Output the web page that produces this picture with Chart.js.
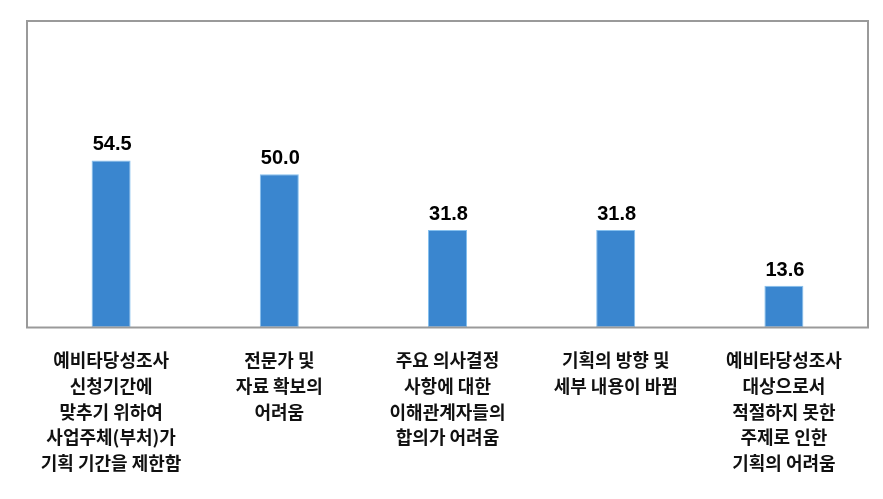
<!DOCTYPE html>
<html>
<head>
<meta charset="utf-8">
<script src="https://cdn.jsdelivr.net/npm/chart.js@4/dist/chart.umd.min.js"></script>
<style>
  html, body { margin: 0; padding: 0; background: #fff; }
  #wrap { width: 883px; height: 499px; }
</style>
</head>
<body>
<div id="wrap"><canvas id="chart"></canvas></div>
<script>
/* ── data ── */
const categories = [
  ['예비타당성조사', '신청기간에', '맞추기 위하여', '사업주체(부처)가', '기획 기간을 제한함'],
  ['전문가 및', '자료 확보의', '어려움'],
  ['주요 의사결정', '사항에 대한', '이해관계자들의', '합의가 어려움'],
  ['기획의 방향 및', '세부 내용이 바뀜'],
  ['예비타당성조사', '대상으로서', '적절하지 못한', '주제로 인한', '기획의 어려움'],
];
const values = [54.5, 50.0, 31.8, 31.8, 13.6];
const yMin = 0;
const yMax = 100;

const BAR      = '#3a86cf';
const BAR_EDGE = '#86c0ee';
const FRAME    = '#9a9a9a';

/* frame round the plot area */
const framePlugin = {
  id: 'frame',
  afterDraw(chart) {
    const { ctx, chartArea: a } = chart;
    ctx.save();
    ctx.strokeStyle = FRAME;
    ctx.lineWidth = 2;
    ctx.strokeRect(a.left, a.top, a.right - a.left, a.bottom - a.top);
    ctx.restore();
  }
};

/* value labels over the bars */
const valueLabels = {
  id: 'valueLabels',
  afterDatasetsDraw(chart) {
    const { ctx } = chart;
    const meta = chart.getDatasetMeta(0);
    ctx.save();
    ctx.font = 'bold 20px "Liberation Sans", Arial, sans-serif';
    ctx.fillStyle = '#000';
    ctx.textAlign = 'center';
    ctx.textBaseline = 'alphabetic';
    meta.data.forEach((bar, i) => {
      ctx.fillText(values[i].toFixed(1), bar.x + 1, bar.y - 10);
    });
    ctx.restore();
  }
};

new Chart(document.getElementById('chart'), {
  type: 'bar',
  data: {
    labels: categories,
    datasets: [{
      data: values,
      backgroundColor: BAR,
      borderColor: BAR_EDGE,
      borderWidth: 1,
      borderSkipped: false,
      categoryPercentage: 1,
      barPercentage: 0.232,
    }]
  },
  options: {
    responsive: true,
    maintainAspectRatio: false,
    animation: false,
    layout: { padding: { left: 27, right: 15, top: 21, bottom: 11 } },
    plugins: {
      legend: { display: false },
      tooltip: { enabled: false },
    },
    scales: {
      x: {
        grid: { display: false },
        border: { display: false },
        ticks: {
          color: '#111',
          padding: 12,
          maxRotation: 0,
          autoSkip: false,
          font: { family: '"Noto Sans CJK KR", sans-serif', size: 18, weight: 'bold', lineHeight: '25.7px' },
        }
      },
      y: {
        display: false,
        min: yMin,
        max: yMax,
      }
    }
  },
  plugins: [framePlugin, valueLabels]
});
</script>
</body>
</html>
